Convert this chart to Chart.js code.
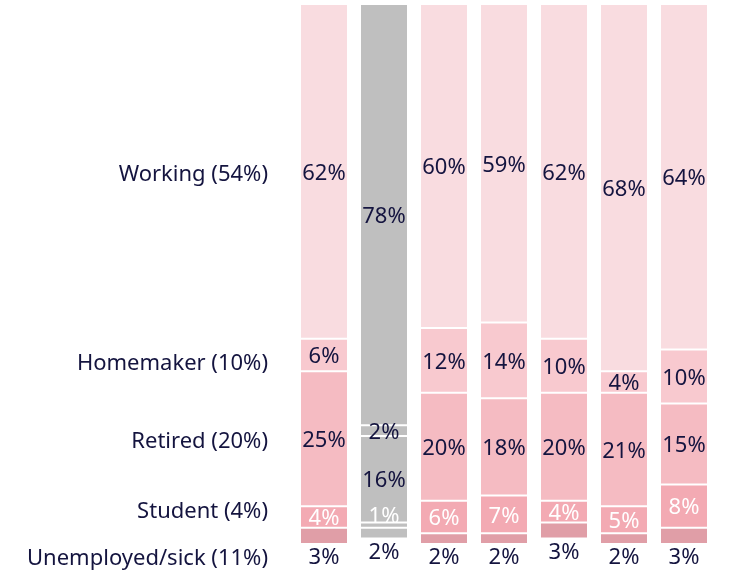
<!DOCTYPE html>
<html>
<head>
<meta charset="utf-8">
<script src="https://cdn.jsdelivr.net/npm/chart.js@4"></script>
<style>
    html, body { margin: 0; padding: 0; background: #fff; }
    #wrap { width: 735px; height: 572px; }
</style>
</head>
<body>
<div id="wrap"><canvas id="chart" width="735" height="572"></canvas></div>
<script>
const GROUPS = ["1", "2", "3", "4", "5", "6", "7"];

const CATEGORIES = ["Working", "Homemaker", "Retired", "Student", "Unemployed/sick"];
const CATEGORY_LABELS = ["Working (54%)", "Homemaker (10%)", "Retired (20%)", "Student (4%)", "Unemployed/sick (11%)"];

const WORKING = [62, 78, 60, 59, 62, 68, 64];
const HOMEMAKER = [6, 2, 12, 14, 10, 4, 10];
const RETIRED = [25, 16, 20, 18, 20, 21, 15];
const STUDENT = [4, 1, 6, 7, 4, 5, 8];
const UNEMPLOYED = [3, 2, 2, 2, 3, 2, 3];

const SERIES = [WORKING, HOMEMAKER, RETIRED, STUDENT, UNEMPLOYED];

const PINKS = ["#f9dce0", "#f8c9cf", "#f5bbc2", "#f3aab3", "#e09ea7"];
const GRAY = "#bfbfbf";
const GRAY_INDEX = 1;

const TEXT = "#14143f";
const FONT = "'Noto Sans', sans-serif";

// left-hand category labels, pixel y of each
const LABEL_Y = [175, 364, 442, 512, 559];

const valueLabels = {
    id: "valueLabels",
    afterDatasetsDraw(chart) {
        const ctx = chart.ctx;
        ctx.save();
        ctx.font = `22px ${FONT}`;
        ctx.textAlign = "center";
        ctx.textBaseline = "middle";
        chart.data.datasets.forEach((ds, di) => {
            const meta = chart.getDatasetMeta(di);
            meta.data.forEach((bar, i) => {
                const v = ds.data[i];
                let y = (bar.y + bar.base) / 2 + 2;
                let color = TEXT;
                if (di === 3) {
                    color = "#ffffff";
                    if (Math.abs(bar.y - bar.base) < 10) y -= 10;
                }
                if (di === 4) {
                    y = Math.max(bar.y, bar.base) + 14;
                }
                ctx.fillStyle = color;
                ctx.fillText(`${v}%`, bar.x, y);
            });
        });

        ctx.fillStyle = TEXT;
        ctx.textAlign = "right";
        CATEGORY_LABELS.forEach((t, i) => {
            ctx.fillText(t, 268, LABEL_Y[i]);
        });
        ctx.restore();
    },
};

new Chart(document.getElementById("chart"), {
    type: "bar",
    data: {
        labels: GROUPS,
        datasets: SERIES.map((values, di) => ({
            label: CATEGORIES[di],
            data: values,
            backgroundColor: GROUPS.map((_, i) => (i === GRAY_INDEX ? GRAY : PINKS[di])),
            borderColor: "#ffffff",
            borderWidth: 1,
            borderSkipped: false,
            categoryPercentage: 1,
            barPercentage: 0.8,
        })),
    },
    options: {
        responsive: false,
        animation: false,
        layout: { padding: { left: 294, right: 21, top: 4, bottom: 28 } },
        plugins: {
            legend: { display: false },
            tooltip: { enabled: false },
        },
        scales: {
            x: { stacked: true, display: false },
            y: { stacked: true, display: false, reverse: true, min: 0, max: 100 },
        },
    },
    plugins: [valueLabels],
});
</script>
</body>
</html>
